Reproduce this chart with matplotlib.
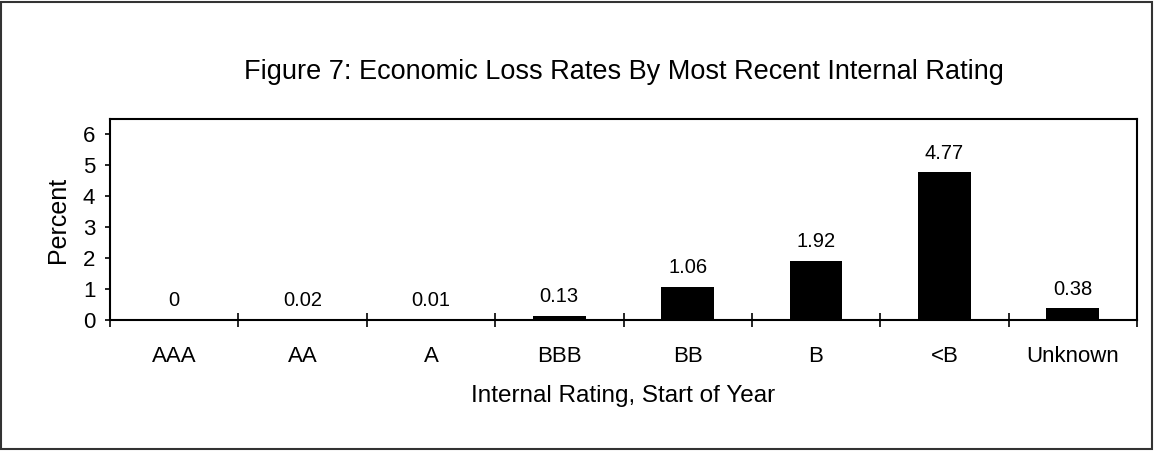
import matplotlib.pyplot as plt
from matplotlib.patches import Rectangle

plt.rcParams["font.family"] = ["Liberation Sans", "DejaVu Sans"]

ratings = ["AAA", "AA", "A", "BBB", "BB", "B", "<B", "Unknown"]
loss_rates = [0, 0.02, 0.01, 0.13, 1.06, 1.92, 4.77, 0.38]
value_labels = ["0", "0.02", "0.01", "0.13", "1.06", "1.92", "4.77", "0.38"]

W, H = 1154, 451
fig = plt.figure(figsize=(W / 100, H / 100), dpi=100)
ax = fig.add_axes([110 / W, 1 - 320 / H, (1137 - 110) / W, (320 - 119) / H])

x = list(range(len(ratings)))
ax.bar(x, loss_rates, width=0.41, color="black")
for xi, v, lab in zip(x, loss_rates, value_labels):
    ax.annotate(lab, (xi, v), xytext=(0, 7), textcoords="offset points",
                ha="center", va="bottom", fontsize=14.5)

ax.set_xlim(-0.5, len(ratings) - 0.5)
ax.set_ylim(0, 6.5)
ax.set_yticks(range(7))
ax.tick_params(axis="y", direction="out", length=3.6, width=1.2, labelsize=16, pad=7)

# category boundary ticks crossing the axis, labels centered
ax.set_xticks([i - 0.5 for i in range(len(ratings) + 1)])
ax.set_xticklabels([])
ax.set_xticks(x, minor=True)
ax.set_xticklabels(ratings, minor=True, fontsize=16)
ax.tick_params(axis="x", which="major", direction="inout", length=10, width=1.2)
ax.tick_params(axis="x", which="minor", length=0, pad=19)

for s in ax.spines.values():
    s.set_linewidth(1.5)

ax.set_ylabel("Percent", fontsize=18, labelpad=9)
ax.set_xlabel("Internal Rating, Start of Year", fontsize=17.5, labelpad=13)
ax.set_title("Figure 7: Economic Loss Rates By Most Recent Internal Rating",
             fontsize=19.5, pad=29)

fig.patches.append(Rectangle((1 / W, 2 / H), (W - 3) / W, (H - 4) / H,
                             transform=fig.transFigure, fill=False,
                             edgecolor="#333333", linewidth=1.5))

fig.savefig("out.png", dpi=100)
